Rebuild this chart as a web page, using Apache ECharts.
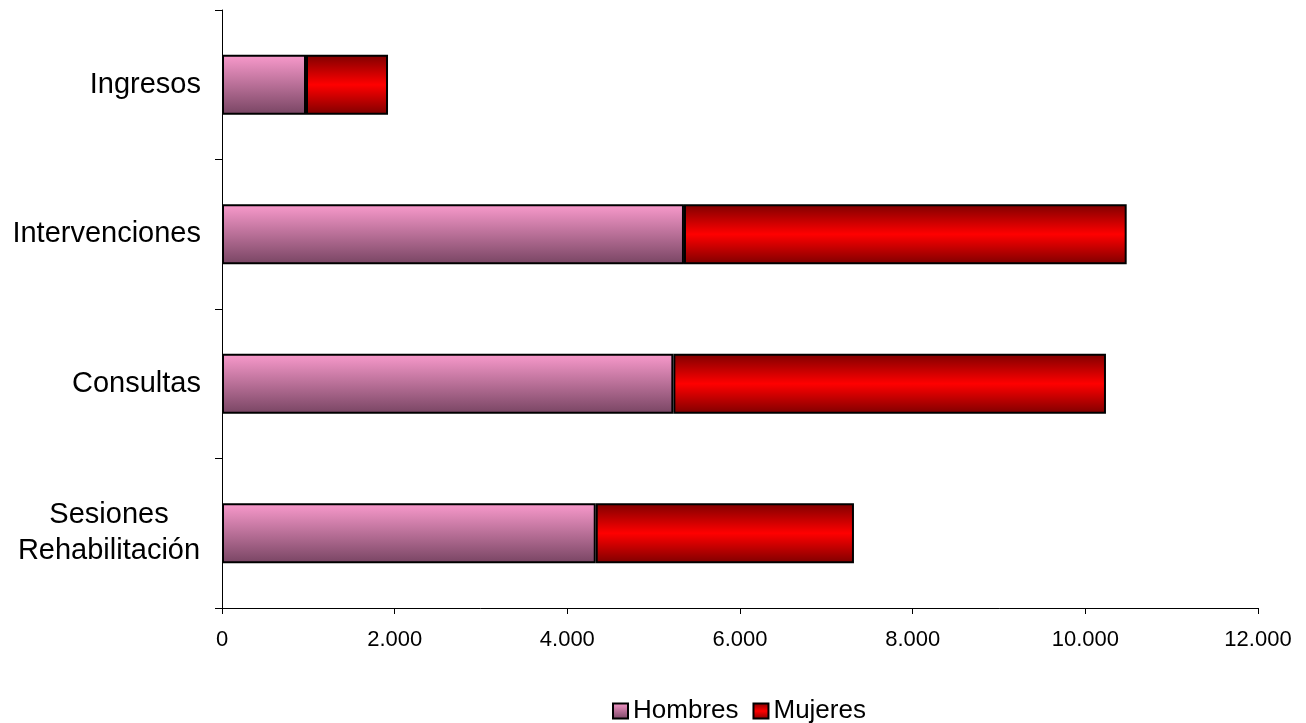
<!DOCTYPE html>
<html>
<head>
<meta charset="utf-8">
<script src="https://cdn.jsdelivr.net/npm/echarts@6/dist/echarts.min.js"></script>
<style>html,body{margin:0;padding:0;background:#fff}#c{width:1306px;height:723px}</style>
</head>
<body>
<div id="c"></div>
<script>
var categories = ['Ingresos', 'Intervenciones', 'Consultas', 'Sesiones\nRehabilitación'];
var hombres = [973, 5351, 5228, 4329];
var mujeres = [950, 5128, 5011, 2991];
var xTicks = { min: 0, max: 12000, interval: 2000 };

var chart = echarts.init(document.getElementById('c'));
var font = 'Liberation Sans, Arial, sans-serif';
var pink = new echarts.graphic.LinearGradient(0, 0, 0, 1, [
  { offset: 0, color: '#F99ACC' },
  { offset: 1, color: '#784563' }
]);
var red = new echarts.graphic.LinearGradient(0, 0, 0, 1, [
  { offset: 0, color: '#7E0000' },
  { offset: 0.5, color: '#FF0000' },
  { offset: 1, color: '#7E0000' }
]);
function fmt(v) {
  var s = String(v);
  return s.replace(/\B(?=(\d{3})+(?!\d))/g, '.');
}
chart.setOption({
  animation: false,
  grid: { left: 222, right: 48, top: 10, bottom: 115, containLabel: false },
  legend: {
    top: 693,
    left: 607,
    icon: 'rect',
    itemWidth: 15,
    itemHeight: 15,
    itemGap: 14,
    textStyle: { fontFamily: font, fontSize: 26, color: '#000', padding: [0, 0, 0, 0] },
    data: ['Hombres', 'Mujeres']
  },
  xAxis: {
    type: 'value',
    min: xTicks.min, max: xTicks.max, interval: xTicks.interval,
    axisLine: { show: true, lineStyle: { color: '#000', width: 1 } },
    axisTick: { show: true, length: 6, lineStyle: { color: '#000' } },
    splitLine: { show: false },
    axisLabel: { fontFamily: font, fontSize: 22, color: '#000', margin: 21, formatter: fmt }
  },
  yAxis: {
    type: 'category',
    inverse: true,
    data: categories,
    axisLine: { show: true, lineStyle: { color: '#000', width: 1 } },
    axisTick: { show: true, length: 7, lineStyle: { color: '#000' } },
    axisLabel: {
      fontFamily: font, fontSize: 29, color: '#000', margin: 21, lineHeight: 36,
      formatter: function (v) {
        if (v.indexOf('\n') >= 0) {
          return v.split('\n').map(function (s) { return '{c|' + s + '}'; }).join('\n');
        }
        return v;
      },
      rich: { c: { fontFamily: font, fontSize: 29, color: '#000', width: 184, align: 'center', lineHeight: 36 } }
    }
  },
  series: [
    {
      name: 'Hombres', type: 'bar', stack: 't', data: hombres, barWidth: 60,
      itemStyle: { color: pink, borderColor: '#000', borderWidth: 2 }
    },
    {
      name: 'Mujeres', type: 'bar', stack: 't', data: mujeres, barWidth: 60,
      itemStyle: { color: red, borderColor: '#000', borderWidth: 2 }
    }
  ]
});
</script>
</body>
</html>
